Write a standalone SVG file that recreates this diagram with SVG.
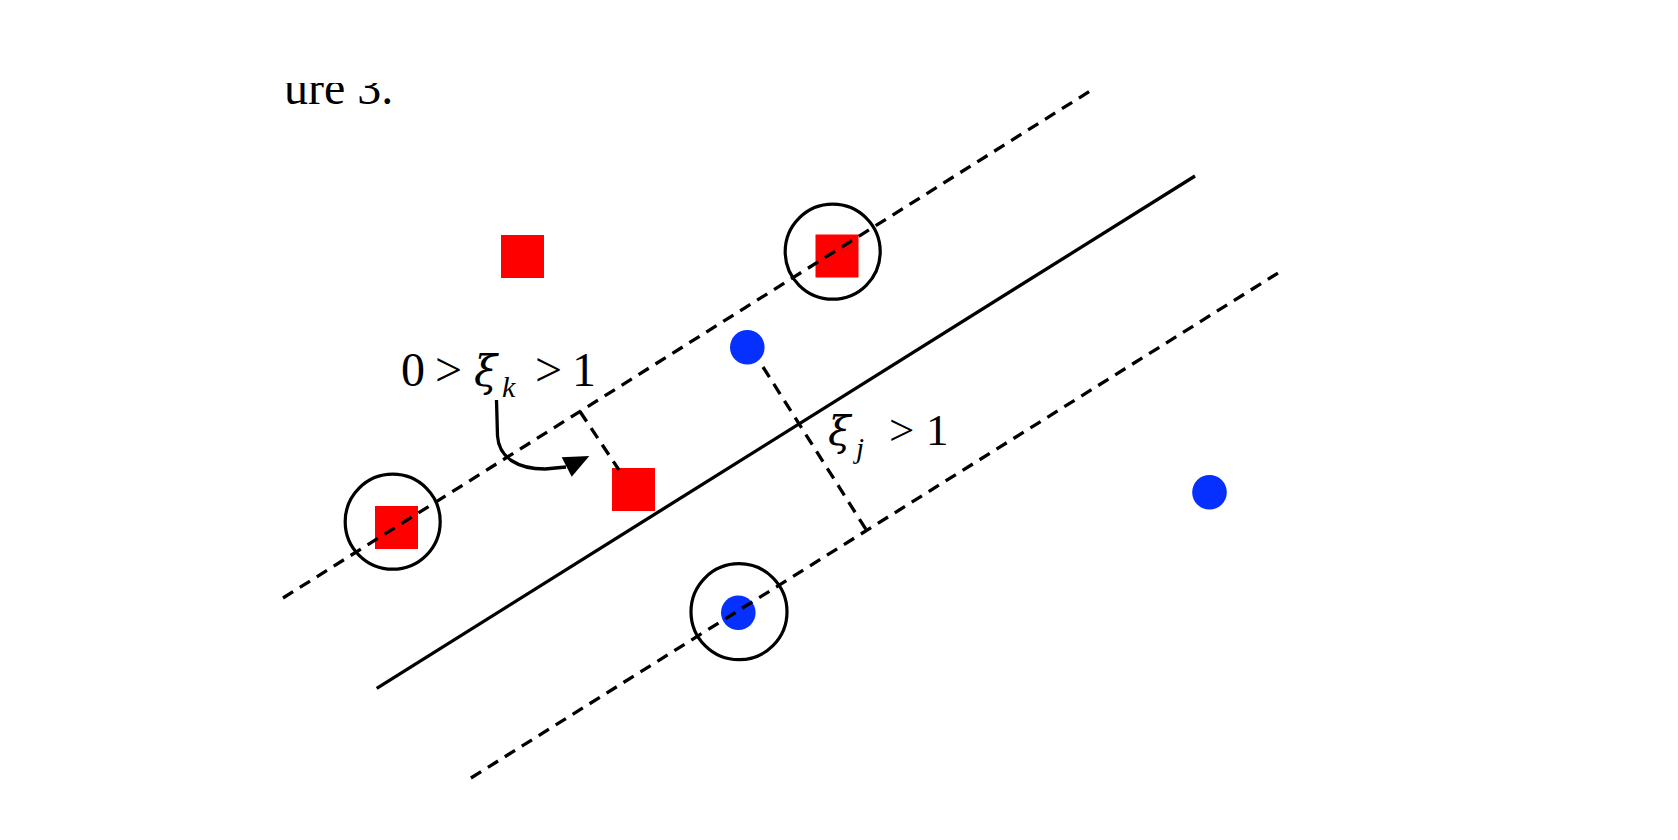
<svg xmlns="http://www.w3.org/2000/svg" width="1678" height="840" viewBox="0 0 1678 840">
<defs>
<style>
.sq{fill:#ff0000}
.dot{fill:#0530ff}
.ring{fill:none;stroke:#000;stroke-width:3.2}
.dash{fill:none;stroke:#000;stroke-width:3.3;stroke-dasharray:12 8}
.solid{fill:none;stroke:#000;stroke-width:3.3}
.t{font-family:"Liberation Serif","Times New Roman",serif;fill:#000}
.gk{font-family:"DejaVu Serif","Liberation Serif",serif;font-style:italic;fill:#000}
.it{font-style:italic}
</style>
<clipPath id="topclip"><rect x="0" y="83" width="1678" height="757"/></clipPath>
</defs>
<rect width="1678" height="840" fill="#fff"/>
<g id="caption" clip-path="url(#topclip)">
<text class="t" x="284" y="103.5" font-size="48">ure 3.</text>
</g>
<g id="nodes">
<g id="sq1"><rect class="sq" x="501" y="235" width="43" height="43"/></g>
<g id="sq2"><rect class="sq" x="815.5" y="234.5" width="43" height="43"/><circle class="ring" cx="832.7" cy="251.7" r="47.5"/></g>
<g id="sq3"><rect class="sq" x="375" y="506" width="43" height="43"/><circle class="ring" cx="392.7" cy="521.7" r="47.5"/></g>
<g id="sq4"><rect class="sq" x="612" y="468" width="43" height="43"/></g>
<g id="dot1"><circle class="dot" cx="747.3" cy="347.3" r="17.3"/></g>
<g id="dot2"><circle class="dot" cx="738.3" cy="612.7" r="17.3"/><circle class="ring" cx="739" cy="611.7" r="48"/></g>
<g id="dot3"><circle class="dot" cx="1209.5" cy="492.3" r="17.3"/></g>
</g>
<g id="connectors">
<line class="dash" x1="1093.3" y1="89" x2="283" y2="598" stroke-dashoffset="15"/>
<line class="solid" x1="1195" y1="176" x2="376.7" y2="688.3"/>
<line class="dash" x1="1281.7" y1="270.7" x2="470.9" y2="778" stroke-dashoffset="15.6"/>
<line class="dash" x1="580" y1="411.5" x2="619" y2="470"/>
<line class="dash" x1="763" y1="367" x2="867" y2="531"/>
<path class="solid" d="M496.5,400 L497.5,436 C499,458 518,469 545,469 L566,467"/>
<polygon points="561.7,457.3 589.3,456 571.7,476.7" fill="#000"/>
</g>
<g id="labels">
<text class="t" font-size="48" y="386"><tspan x="401">0</tspan><tspan x="435">&gt;</tspan></text>
<text class="gk" font-size="42" x="474" y="386">ξ</text>
<text class="t it" font-size="30" x="502" y="397">k</text>
<text class="t" font-size="48" y="386"><tspan x="535">&gt;</tspan><tspan x="572">1</tspan></text>
<text class="gk" font-size="41" x="828" y="445">ξ</text>
<text class="t it" font-size="29" x="856" y="458">j</text>
<text class="t" font-size="45" y="445"><tspan x="889">&gt;</tspan><tspan x="926">1</tspan></text>
</g>
</svg>
